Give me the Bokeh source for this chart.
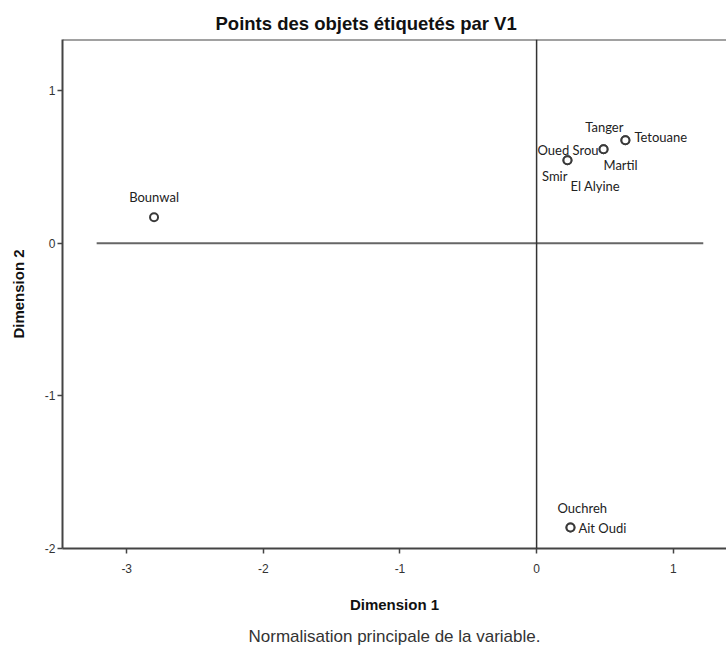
from bokeh.plotting import figure
from bokeh.models import Range1d, Span, Title, ColumnDataSource, FixedTicker, LinearAxis
from bokeh.core.properties import value
from bokeh.embed import file_html
from bokeh.resources import INLINE

# ---- data (object scores) ----
objects = ["Tanger", "Tetouane", "Oued Srou", "Martil", "Smir", "El Alyine",
           "Ouchreh", "Ait Oudi", "Bounwal"]
dim1 = [0.65, 0.65, 0.49, 0.49, 0.226, 0.226, 0.248, 0.248, -2.80]
dim2 = [0.675, 0.675, 0.616, 0.616, 0.544, 0.544, -1.862, -1.862, 0.17]
x_ticks = [-3, -2, -1, 0, 1]
y_ticks = [-2, -1, 0, 1]
x_limits = [-3.47, 1.39]
y_limits = [-2.0, 1.335]
ref_line_x = [-3.22, 1.22]   # extent of the horizontal reference line at 0

# ---- label placement (style, pixels) ----
label_dx = [-2, 9, -5, 0, 0, 3, -13, 8, 0]
label_dy = [-13, -3, 1, 16, 16, 26, -19, 1, -20]
label_align = ["right", "left", "right", "left", "right", "left", "left", "left", "center"]

AX = "#444444"
FONT = "Liberation Sans"

p = figure(width=726, height=648, output_backend="svg", toolbar_location=None,
           x_range=Range1d(*x_limits), y_range=Range1d(*y_limits),
           min_border_left=62, min_border_right=0, min_border_top=39,
           min_border_bottom=100, background_fill_color="white",
           border_fill_color="white", outline_line_color=None)

p.title = Title(text="Points des objets étiquetés par V1", align="left",
                offset=153, text_font_size="18.5px", text_font=FONT,
                text_font_style="bold", text_color="#111111", standoff=11)

p.xgrid.visible = False
p.ygrid.visible = False

for ax in (p.xaxis, p.yaxis):
    ax.axis_line_color = AX
    ax.axis_line_width = 2
    ax.major_tick_line_color = AX
    ax.major_tick_line_width = 1.5
    ax.major_tick_in = 0
    ax.major_tick_out = 5
    ax.minor_tick_line_color = None
    ax.major_label_text_font = FONT
    ax.major_label_text_font_size = "12px"
    ax.major_label_text_color = "#333333"
    ax.axis_label_text_font = FONT
    ax.axis_label_text_font_size = "15px"
    ax.axis_label_text_font_style = "bold"
    ax.axis_label_text_color = "#111111"

p.xaxis.ticker = FixedTicker(ticks=x_ticks)
p.yaxis.ticker = FixedTicker(ticks=y_ticks)
p.xaxis.major_label_overrides = {t: str(t) for t in x_ticks}
p.yaxis.major_label_overrides = {t: str(t) for t in y_ticks}
p.xaxis.axis_label = "Dimension 1"
p.yaxis.axis_label = "Dimension 2"
p.xaxis.major_label_standoff = 10
p.xaxis.axis_label_standoff = 20
p.yaxis.major_label_standoff = 2
p.yaxis.axis_label_standoff = 15
p.yaxis.major_label_orientation = "horizontal"

# footnote, drawn as the label of a bare second bottom axis
note_axis = LinearAxis(ticker=FixedTicker(ticks=[]), axis_line_color=None,
                       major_tick_line_color=None, minor_tick_line_color=None,
                       major_tick_out=0, major_tick_in=0,
                       axis_label="Normalisation principale de la variable.",
                       axis_label_standoff=11, axis_label_text_font=FONT,
                       axis_label_text_font_size="17px",
                       axis_label_text_font_style="normal",
                       axis_label_text_color="#333333")
p.add_layout(note_axis, "below")

# top border of the frame
p.add_layout(Span(location=y_limits[1], dimension="width", line_color=AX, line_width=2))
# reference lines
p.add_layout(Span(location=0, dimension="height", line_color="#333333", line_width=1.5))
p.line(x=ref_line_x, y=[0, 0], line_color="#666666", line_width=2)

src = ColumnDataSource(dict(x=dim1, y=dim2, name=objects))
p.scatter("x", "y", source=src, size=8, marker="circle", fill_color="white",
          line_color="#3a3a3a", line_width=2)

for al in ("left", "right", "center"):
    idx = [i for i, a in enumerate(label_align) if a == al]
    s = ColumnDataSource(dict(x=[dim1[i] for i in idx], y=[dim2[i] for i in idx],
                              name=[objects[i] for i in idx],
                              dx=[label_dx[i] for i in idx], dy=[label_dy[i] for i in idx]))
    p.text("x", "y", text="name", source=s, x_offset="dx", y_offset="dy",
           text_align=al, text_baseline="middle", text_font=value("Lato"),
           text_font_size="13px", text_color="#222222")

open("out.html", "w").write(file_html(p, INLINE))
